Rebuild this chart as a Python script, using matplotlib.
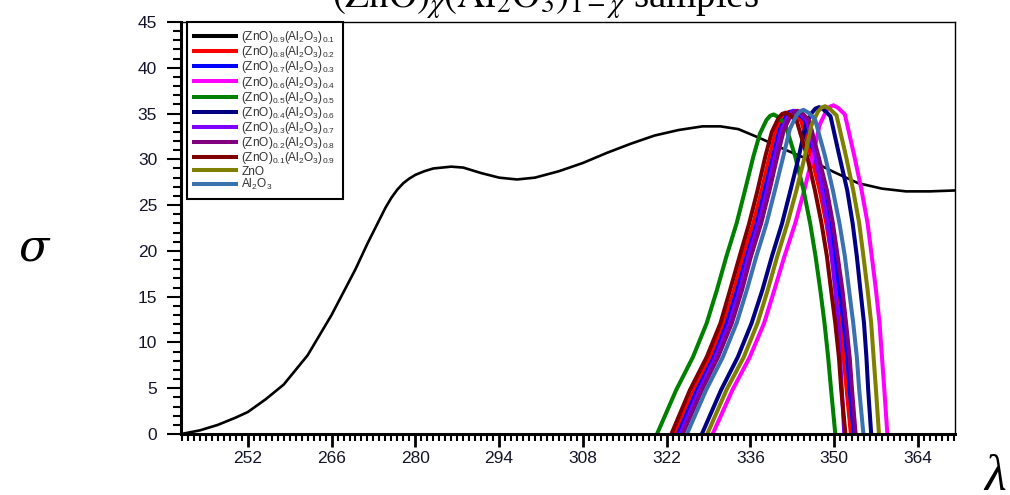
import matplotlib
matplotlib.use("Agg")
import matplotlib.pyplot as plt
from matplotlib.ticker import MultipleLocator
from matplotlib.font_manager import FontProperties

plt.rcParams['font.family'] = ['Liberation Sans', 'DejaVu Sans']
plt.rcParams['mathtext.fontset'] = 'custom'
plt.rcParams['mathtext.rm'] = 'Liberation Sans'
plt.rcParams['mathtext.it'] = 'Liberation Sans:italic'

# broad curve of the x = 0.9 sample
lam_09 = [240.9, 244, 247, 250, 252, 255, 258, 262, 266, 270, 272, 274, 275, 276, 277, 278,
          279, 280, 281.5, 283, 286, 288, 291, 294, 297, 300, 304, 308, 312, 316, 320, 324,
          328, 331, 334, 338, 342, 346, 350, 354, 358, 362, 366, 370.2]
sig_09 = [0.0, 0.4, 1.0, 1.8, 2.4, 3.8, 5.4, 8.6, 13.0, 18.0, 20.8, 23.4, 24.7, 25.8, 26.7, 27.4,
          27.9, 28.3, 28.7, 29.0, 29.2, 29.1, 28.5, 28.0, 27.8, 28.0, 28.7, 29.6, 30.7, 31.7, 32.6, 33.2,
          33.6, 33.6, 33.3, 32.2, 31.0, 29.9, 28.6, 27.4, 26.8, 26.5, 26.5, 26.6]

# sigma levels on the flanks of the narrow peaks
sigma_flank = [0, 4.8, 8.4, 12.1, 15.7, 19.4, 23.0, 26.6, 30.3]

# wavelength: rising flank, cap (6 pts), falling flank
lam_08 = [323.4, 326.6, 329.3, 331.6, 333.3, 334.8, 336.5, 337.9, 339.2,
          340.3, 341.4, 342.0, 342.6, 343.4, 344.5,
          346.2, 347.6, 348.7, 349.6, 350.4, 351.0, 351.6, 352.1, 352.8]
cap_08 = [33.1, 34.6, 35.05, 35.2, 34.9, 34.2]

lam_07 = [323.9, 327.1, 329.9, 332.1, 333.8, 335.4, 337.1, 338.4, 339.8,
          340.9, 342.0, 342.6, 343.2, 344.0, 345.1,
          346.8, 348.2, 349.2, 350.1, 350.9, 351.6, 352.2, 352.6, 353.3]
cap_07 = [33.2, 34.7, 35.15, 35.3, 35.0, 34.3]

lam_06 = [329.7, 333.0, 335.9, 338.3, 340.0, 341.7, 343.5, 345.0, 346.4,
          347.6, 348.7, 349.3, 349.9, 350.7, 351.8,
          353.4, 354.6, 355.6, 356.3, 357.0, 357.6, 358.0, 358.4, 358.9]
cap_06 = [33.8, 35.3, 35.75, 35.9, 35.6, 34.9]

lam_05 = [320.4, 323.6, 326.4, 328.7, 330.4, 332.0, 333.7, 335.1, 336.5,
          337.6, 338.7, 339.3, 339.9, 340.7, 341.8,
          343.5, 344.9, 346.0, 346.9, 347.7, 348.4, 349.0, 349.5, 350.2]
cap_05 = [32.8, 34.3, 34.75, 34.9, 34.6, 33.9]

lam_04 = [327.9, 331.1, 333.9, 336.2, 338.0, 339.6, 341.3, 342.7, 344.1,
          345.2, 346.3, 346.9, 347.5, 348.3, 349.4,
          350.9, 352.2, 353.1, 353.8, 354.4, 355.0, 355.4, 355.7, 356.2]
cap_04 = [33.6, 35.1, 35.55, 35.7, 35.4, 34.7]

lam_03 = [324.3, 327.5, 330.2, 332.5, 334.2, 335.7, 337.4, 338.8, 340.1,
          341.2, 342.3, 342.9, 343.5, 344.3, 345.4,
          346.9, 348.0, 348.9, 349.6, 350.2, 350.7, 351.0, 351.3, 351.7]
cap_03 = [33.2, 34.7, 35.15, 35.3, 35.0, 34.3]

lam_02 = [324.7, 327.9, 330.6, 332.9, 334.6, 336.1, 337.8, 339.2, 340.5,
          341.6, 342.7, 343.3, 343.9, 344.7, 345.8,
          347.4, 348.8, 349.8, 350.6, 351.4, 352.0, 352.6, 353.0, 353.6]
cap_02 = [33.2, 34.7, 35.15, 35.3, 35.0, 34.3]

lam_01 = [322.8, 325.9, 328.7, 331.0, 332.6, 334.2, 335.8, 337.2, 338.5,
          339.6, 340.7, 341.3, 341.9, 342.7, 343.8,
          345.5, 346.8, 347.9, 348.8, 349.5, 350.2, 350.8, 351.2, 351.9]
cap_01 = [33.0, 34.5, 34.95, 35.1, 34.8, 34.1]

lam_zno = [328.8, 332.0, 334.9, 337.2, 338.9, 340.5, 342.2, 343.7, 345.1,
           346.2, 347.3, 347.9, 348.5, 349.3, 350.4,
           352.0, 353.2, 354.2, 354.9, 355.6, 356.2, 356.6, 357.0, 357.5]
cap_zno = [33.7, 35.2, 35.65, 35.8, 35.5, 34.8]

lam_al2o3 = [325.4, 328.6, 331.4, 333.7, 335.4, 337.0, 338.7, 340.1, 341.5,
             342.6, 343.7, 344.3, 344.9, 345.7, 346.8,
             348.5, 349.8, 350.9, 351.8, 352.5, 353.2, 353.8, 354.2, 354.9]
cap_al2o3 = [33.3, 34.8, 35.25, 35.4, 35.1, 34.4]

labels = [r"(ZnO)$_{0.9}$(Al$_2$O$_3$)$_{0.1}$", r"(ZnO)$_{0.8}$(Al$_2$O$_3$)$_{0.2}$",
          r"(ZnO)$_{0.7}$(Al$_2$O$_3$)$_{0.3}$", r"(ZnO)$_{0.6}$(Al$_2$O$_3$)$_{0.4}$",
          r"(ZnO)$_{0.5}$(Al$_2$O$_3$)$_{0.5}$", r"(ZnO)$_{0.4}$(Al$_2$O$_3$)$_{0.6}$",
          r"(ZnO)$_{0.3}$(Al$_2$O$_3$)$_{0.7}$", r"(ZnO)$_{0.2}$(Al$_2$O$_3$)$_{0.8}$",
          r"(ZnO)$_{0.1}$(Al$_2$O$_3$)$_{0.9}$", "ZnO", r"Al$_2$O$_3$"]
colors = ['black', '#ff0000', '#0000ff', '#ff00ff', '#008000', '#000080', '#8000ff',
          '#800080', '#800000', '#808000', '#3a72b0']

xticks = [252, 266, 280, 294, 308, 322, 336, 350, 364]
yticks = [0, 5, 10, 15, 20, 25, 30, 35, 40, 45]

fig = plt.figure(figsize=(10.1, 4.95), dpi=100)
ax = fig.add_axes([0.179, 0.1232, 0.7665, 0.8324])

ax.plot(lam_09, sig_09, color=colors[0], lw=1.9, label=labels[0], solid_joinstyle='round')

narrow = [lam_08, lam_07, lam_06, lam_05, lam_04, lam_03, lam_02, lam_01, lam_zno, lam_al2o3]
caps = [cap_08, cap_07, cap_06, cap_05, cap_04, cap_03, cap_02, cap_01, cap_zno, cap_al2o3]
for lam, cap, c, lab in zip(narrow, caps, colors[1:], labels[1:]):
    sig = sigma_flank + cap + sigma_flank[::-1]
    ax.plot(lam, sig, color=c, lw=2.9, label=lab, solid_joinstyle='round')

ax.set_xlim(240.8, 370.2)
ax.set_ylim(0, 45)
ax.set_xticks(xticks)
ax.set_yticks(yticks)
ax.xaxis.set_minor_locator(MultipleLocator(1))
ax.yaxis.set_minor_locator(MultipleLocator(1))
ax.tick_params(axis='x', which='major', direction='out', length=9, width=2, pad=3,
               labelsize=12.5, labelcolor='#15152a')
ax.tick_params(axis='x', which='minor', direction='out', length=5, width=1.5)
ax.tick_params(axis='y', which='major', direction='out', length=10, width=1.5, pad=7,
               labelsize=12.5, labelcolor='#15152a')
ax.tick_params(axis='y', which='minor', direction='out', length=6, width=1.5)
for side in ['left', 'bottom']:
    ax.spines[side].set_linewidth(2.2)
for side in ['top', 'right']:
    ax.spines[side].set_linewidth(1.0)

leg = ax.legend(loc='upper left', bbox_to_anchor=(0.008, 1.0), borderaxespad=0,
                fontsize=8.6, handlelength=3.5, handletextpad=0.45, labelspacing=-0.07,
                borderpad=0.6, fancybox=False, framealpha=1, edgecolor='black')
leg.get_frame().set_linewidth(1.5)
for t in leg.get_texts():
    t.set_color('#333333')
for h in leg.get_lines():
    h.set_linewidth(2.9)

# axis symbols and (partly cut) heading
fig.text(0.034, 0.5, "σ", fontsize=32, family='DejaVu Serif', style='italic',
         ha='center', va='center')
fig.text(0.985, 0.035, "λ", fontsize=36, family='Liberation Serif', style='italic',
         ha='center', va='center')
title_font = FontProperties(family='Liberation Serif', size=28, math_fontfamily='stix')
fig.text(0.54, 0.985, r"$(\mathrm{ZnO})_{\chi}(\mathrm{Al}_2\mathrm{O}_3)_{1-\chi}$ samples",
         fontproperties=title_font, ha='center', va='baseline')

fig.savefig("out.png", dpi=100)
